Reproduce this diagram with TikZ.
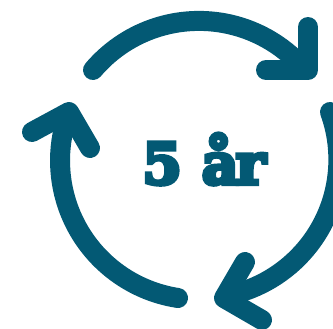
\documentclass[tikz,border=0pt]{standalone}
\usepackage{fontspec}
\newfontfamily\slab[FakeBold=7]{DejaVu Serif Bold}
\definecolor{teal}{RGB}{3,89,116}
\tikzset{arrowline/.style={draw=teal,line width=20pt,line cap=round,line join=round},
 label/.style={text=teal,inner sep=0pt,font=\slab\fontsize{57}{57}\selectfont}}
\begin{document}
\begin{tikzpicture}[x=1pt,y=-1pt]
\clip (0,0) rectangle (333,329);
\useasboundingbox (0,0) rectangle (333,329);
\coordinate (c) at (199,160);
\coordinate (tipA) at (308,70);
\coordinate (tipB) at (224,298);
\coordinate (tipC) at (69,112);
\coordinate (endA) at (93,70);
\coordinate (endB) at (330,112);
\coordinate (endC) at (178,298);
\draw[arrowline] (endA) arc[start angle=139.7,end angle=42,radius=139pt];
\draw[arrowline] (308,27) -- (tipA) -- (266,70);
\draw[arrowline] (endB) arc[start angle=20,end angle=-78,radius=139pt];
\draw[arrowline] (245,262) -- (tipB) -- (262,320);
\draw[arrowline] (endC) arc[start angle=-98.7,end angle=-198,radius=139pt];
\draw[arrowline] (32,132) -- (tipC) -- (90,148);
\node[label,anchor=base] (t) at (204,184) {5 å\kern-3ptr};
\end{tikzpicture}
\end{document}
